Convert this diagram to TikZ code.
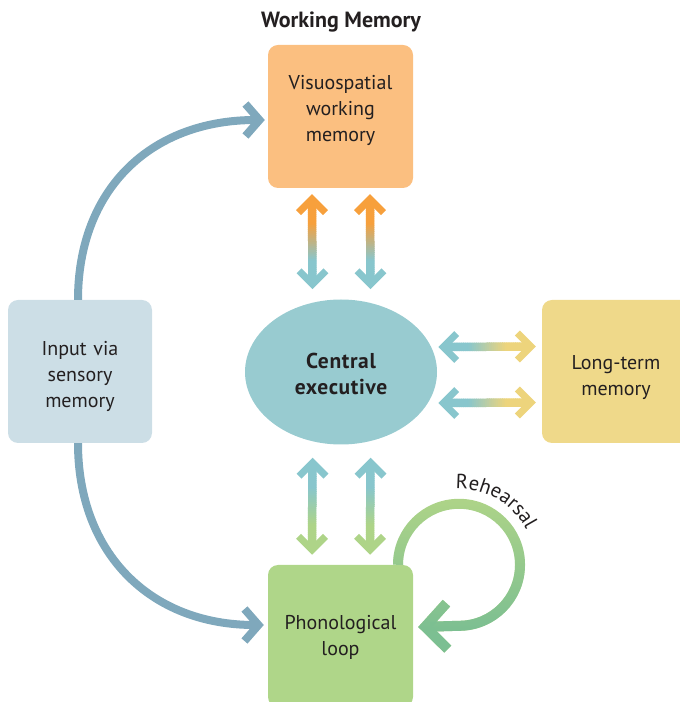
\documentclass[tikz,border=0pt]{standalone}
\usepackage{fontspec}
\setmainfont{PT Sans}
\usetikzlibrary{arrows.meta,fadings,decorations.text,shapes.geometric,calc}
\definecolor{txt}{HTML}{231F20}
\definecolor{orangebox}{HTML}{FBBF80}
\definecolor{orangearrow}{HTML}{F7A03C}
\definecolor{tealfill}{HTML}{98CBD0}
\definecolor{tealarrow}{HTML}{88C6CD}
\definecolor{inputbox}{HTML}{CCDEE6}
\definecolor{bluecurve}{HTML}{7FA8BC}
\definecolor{ltmbox}{HTML}{EFD98A}
\definecolor{yellowarrow}{HTML}{EDD47C}
\definecolor{greenbox}{HTML}{AFD689}
\definecolor{greenarrow}{HTML}{AED488}
\definecolor{darkgreen}{HTML}{7CBF92}
\tikzfading[name=fadebottom, bottom color=transparent!0, top color=transparent!100]
\tikzset{
  chev/.pic={\draw[line width=7pt, line join=miter, line cap=butt]
    (-13.5,-18.5) -- (0,-5) -- (13.5,-18.5);}
}
% #1 tip A, #2 tip B, #3 colour at A, #4 colour at B, #5 direction angle of A (0 = up)
\newcommand\gradarrow[5]{%
  \coordinate (ga1) at ($(#1)!5.5pt!(#2)$);
  \coordinate (ga2) at ($(#2)!5.5pt!(#1)$);
  \foreach \i in {0,...,39}{
    \pgfmathsetmacro\ta{\i/40}
    \pgfmathsetmacro\tb{min(1,(\i+1.3)/40)}
    \pgfmathtruncatemacro\pc{min(100,max(0,((\i+0.5)/40-0.28)/0.44*100))}
    \draw[line width=8.5pt, color=#4!\pc!#3] ($(ga1)!\ta!(ga2)$) -- ($(ga1)!\tb!(ga2)$);
  }
  \pic[rotate=#5, color=#3] at (#1) {chev};
  \pic[rotate=#5+180, color=#4] at (#2) {chev};
}
\begin{document}
\begin{tikzpicture}[x=1pt,y=1pt,
  box/.style={rounded corners=10pt, minimum width=145pt, minimum height=143pt, inner sep=0pt},
  boxtext/.style={text width=135pt, align=center, font=\fontsize{20}{26}\selectfont, text=txt, inner sep=0pt},
  curvearrow/.style={line width=8pt, bluecurve, -{Straight Barb[length=14pt,width=32pt]}},
]
\useasboundingbox (0,0) rectangle (680,702);
\node[font=\fontsize{22}{26}\selectfont\bfseries, text=txt] (title) at (341,680) {Working Memory};
\node[box, fill=orangebox] (vs) at (340.5,585.5) {};
\node[boxtext] (vst) at ([yshift=6pt]vs.center) {Visuospatial\\working\\memory};
\node[box, fill=inputbox, minimum width=144pt] (in) at (80,330.5) {};
\node[boxtext] (int) at ([yshift=-5pt]in.center) {Input via\\sensory\\memory};
\node[box, fill=ltmbox, minimum width=148pt] (ltm) at (616,330.5) {};
\node[boxtext] (ltmt) at ([yshift=-6pt]ltm.center) {Long-term\\memory};
\node[box, fill=greenbox, minimum height=142pt] (pl) at (340.5,66) {};
\node[boxtext] (plt) at ([yshift=-1pt]pl.center) {Phonological\\loop};
\node[ellipse, fill=tealfill, minimum width=192pt, minimum height=145pt, inner sep=0pt] (ce) at (341,330) {};
\node[align=center, text=txt, inner sep=0pt,
  font=\fontsize{21.5}{26}\selectfont\bfseries\addfontfeature{LetterSpace=3}] (cet) at ([yshift=-2pt]ce.center) {Central\\executive};

% tips of the double arrows
\coordinate (ua1) at ([xshift=-28.5pt,yshift=-6pt]vs.south);
\coordinate (ub1) at ([xshift=-28.5pt,yshift=10pt]ce.north);
\coordinate (ua2) at ([xshift=29.5pt,yshift=-6pt]vs.south);
\coordinate (ub2) at ([xshift=29.5pt,yshift=10pt]ce.north);
\coordinate (la1) at ([xshift=-28.5pt,yshift=-13pt]ce.south);
\coordinate (lb1) at ([xshift=-28.5pt,yshift=10pt]pl.north);
\coordinate (la2) at ([xshift=29.5pt,yshift=-13pt]ce.south);
\coordinate (lb2) at ([xshift=29.5pt,yshift=10pt]pl.north);
\coordinate (ha1) at ([xshift=1pt,yshift=25pt]ce.east);
\coordinate (hb1) at ([xshift=-6pt,yshift=25pt]ltm.west);
\coordinate (ha2) at ([xshift=1pt,yshift=-31pt]ce.east);
\coordinate (hb2) at ([xshift=-6pt,yshift=-31pt]ltm.west);

\gradarrow{ua1}{ub1}{orangearrow}{tealarrow}{0}
\gradarrow{ua2}{ub2}{orangearrow}{tealarrow}{0}
\gradarrow{la1}{lb1}{tealarrow}{greenarrow}{0}
\gradarrow{la2}{lb2}{tealarrow}{greenarrow}{0}
\gradarrow{ha1}{hb1}{tealarrow}{yellowarrow}{90}
\gradarrow{ha2}{hb2}{tealarrow}{yellowarrow}{90}

% blue curves
\draw[curvearrow] ([xshift=-2pt]in.north) .. controls (78,512) and (150,582) .. ([xshift=-3pt,yshift=-3.5pt]vs.west);
\draw[curvearrow] ([xshift=-2pt]in.south) .. controls (78,149) and (150,77) .. ([xshift=-4pt,yshift=11pt]pl.west);
% rehearsal loop
\coordinate (rc) at (459,137);
\draw[line width=10pt, greenarrow, -{Straight Barb[length=22pt,width=46pt]}]
  ([xshift=57.5pt]pl.north) arc[start angle=180, end angle=-90, radius=61] -- ([xshift=5pt,yshift=9pt]pl.east);
\draw[line width=10pt, darkgreen, path fading=fadebottom, -{Straight Barb[length=22pt,width=46pt]}]
  ([xshift=57.5pt]pl.north) arc[start angle=180, end angle=-90, radius=61] -- ([xshift=5pt,yshift=9pt]pl.east);
\path[decorate, decoration={text along path, text align=center,
  text={|\fontsize{20.5}{24}\selectfont\color{txt}|Rehearsal}}]
  ($(rc)+(120:76)$) arc[start angle=120, end angle=0, radius=76];
\end{tikzpicture}
\end{document}
